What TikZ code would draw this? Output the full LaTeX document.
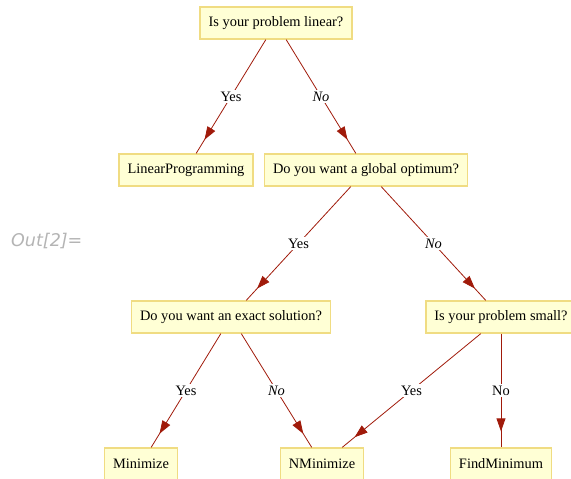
\documentclass[tikz,border=0pt]{standalone}
\usepackage{fontspec}
\setmainfont{Liberation Serif}
\newfontfamily\outfont{DejaVu Sans}
\usetikzlibrary{arrows.meta,decorations.markings}
\definecolor{boxfill}{RGB}{255,255,213}
\definecolor{boxdraw}{RGB}{240,220,130}
\definecolor{edgecol}{RGB}{160,26,10}
\definecolor{outgray}{RGB}{180,180,180}
\tikzset{
  qbox/.style={draw=boxdraw,fill=boxfill,line width=1.3pt,minimum height=32pt,
    inner xsep=8.5pt,inner ysep=0pt,font=\fontsize{14.4}{17}\selectfont},
  edgeline/.style={draw=edgecol,line width=0.8pt,
    postaction={decorate},
    decoration={markings,mark=at position -16pt with {\arrow[edgecol]{Triangle[length=13pt,width=9pt]}}}},
  lbl/.style={fill=white,inner sep=1.5pt,font=\fontsize{14.4}{17}\selectfont,text=black},
}
\begin{document}
\begin{tikzpicture}[x=1pt,y=-1pt]
\useasboundingbox (0,0) rectangle (571,479);
\clip (0,0) rectangle (571,479);
\node[font=\outfont\itshape\fontsize{17.5}{20}\selectfont,text=outgray,anchor=base west,inner sep=0pt] (out) at (11,246) {Out[2]=};
\node[qbox] (lin) at (276,23) {Is your problem linear?};
\node[qbox] (lp) at (186,170) {LinearProgramming};
\node[qbox] (glob) at (366,170) {Do you want a global optimum?};
\node[qbox] (exact) at (231,317) {Do you want an exact solution?};
\node[qbox] (small) at (501,317) {Is your problem small?};
\node[qbox] (min) at (141,464) {Minimize};
\node[qbox] (nmin) at (322,464) {NMinimize};
\node[qbox] (fmin) at (501,464) {FindMinimum};
\draw[edgeline] (lin) -- node[lbl]{Yes} (lp);
\draw[edgeline] (lin) -- node[lbl]{\itshape No} (glob);
\draw[edgeline] (glob) -- node[lbl]{Yes} (exact);
\draw[edgeline] (glob) -- node[lbl]{\itshape No} (small);
\draw[edgeline] (exact) -- node[lbl]{Yes} (min);
\draw[edgeline] (exact) -- node[lbl]{\itshape No} (nmin);
\draw[edgeline] (small) -- node[lbl]{Yes} (nmin);
\draw[edgeline] (small) -- node[lbl]{No} (fmin);
\end{tikzpicture}
\end{document}
